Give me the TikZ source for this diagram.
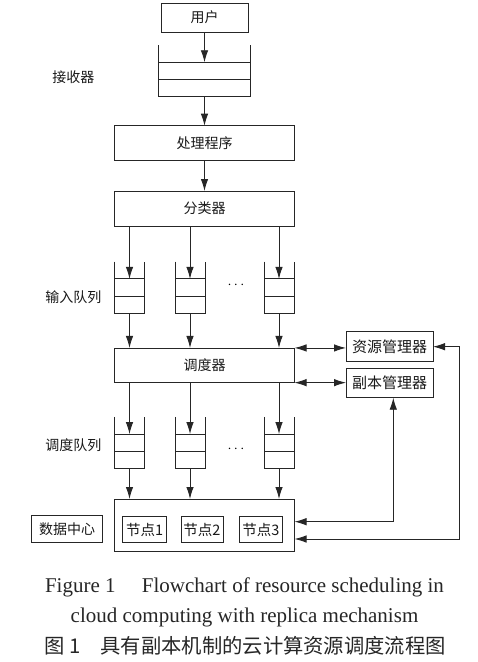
\documentclass[tikz,border=0pt]{standalone}
\usepackage{fontspec}
\setmainfont{Liberation Serif}
\newfontfamily\cjk{Noto Sans CJK SC}
\usetikzlibrary{arrows.meta,calc}
\begin{document}
\begin{tikzpicture}[x=1pt,y=-1pt,
  ln/.style={draw=black!85,line width=0.9pt},
  arr/.style={ln,-{Latex[length=12pt,width=7.5pt]}},
  darr/.style={ln,{Latex[length=12pt,width=7.5pt]}-{Latex[length=12pt,width=7.5pt]}},
  box/.style={ln,rectangle,inner sep=0pt,outer sep=0pt,font=\cjk\fontsize{14}{16}\selectfont,text=black!90},
  qbox/.style={rectangle,inner sep=0pt,outer sep=0pt,minimum height=51.7pt},
  lbl/.style={font=\cjk\fontsize{14}{16}\selectfont,text=black!90,inner sep=0pt},
  dots/.style={inner sep=0pt,font=\fontsize{14}{16}\selectfont,text=black}]
\useasboundingbox (0,0) rectangle (478,662);
\fill[white] (0,0) rectangle (478,662);
\newcommand{\myqueue}[3]{%
  \node[qbox,minimum width=#3] (#1) at (#2) {};
  \draw[ln] (#1.north west) -- (#1.south west) -- (#1.south east) -- (#1.north east);
  \coordinate (#1-a) at ($(#1.north)!1/3!(#1.south)$);
  \draw[ln] ($(#1.north west)!1/3!(#1.south west)$) -- ($(#1.north east)!1/3!(#1.south east)$);
  \draw[ln] ($(#1.north west)!2/3!(#1.south west)$) -- ($(#1.north east)!2/3!(#1.south east)$);
}
% top
\node[box,minimum width=87pt,minimum height=29pt] (user) at (204.5,17.5) {用户};
\myqueue{rq}{204.5,70.9}{91.4pt}
\node[lbl] (lrq) at (73.4,76.7) {接收器};
\node[box,minimum width=180pt,minimum height=35pt] (proc) at (204.5,143.2) {处理程序};
\node[box,minimum width=180pt,minimum height=35pt] (cls) at (204.5,208.5) {分类器};
\draw[arr] (user.south) -- (rq-a);
\draw[arr] (rq.south) -- (proc.north);
\draw[arr] (proc.south) -- (cls.north);
% input queues
\myqueue{iq1}{129.5,287.5}{30pt}
\myqueue{iq2}{190,287.5}{30pt}
\myqueue{iq3}{279,287.5}{30pt}
\node[dots] (idots) at (236,285) {$\cdots$};
\node[lbl] (liq) at (73.4,296.7) {输入队列};
\foreach \q in {iq1,iq2,iq3}{\draw[arr] (cls.south -| \q) -- (\q-a);}
\node[box,minimum width=180pt,minimum height=34.7pt] (sch) at (204.5,365.3) {调度器};
\foreach \q in {iq1,iq2,iq3}{\draw[arr] (\q.south) -- (sch.north -| \q);}
% managers
\node[box,minimum width=87pt,minimum height=30pt,font=\cjk\fontsize{15}{16}\selectfont] (res) at (389.5,346.7) {资源管理器};
\node[box,minimum width=87pt,minimum height=29.4pt,font=\cjk\fontsize{15}{16}\selectfont] (rep) at (389.5,383) {副本管理器};
\draw[darr] (sch.north east) -- (sch.north east -| res.west);
\draw[darr] (sch.south east) -- (sch.south east -| rep.west);
% schedule queues
\myqueue{sq1}{129.5,442.7}{30pt}
\myqueue{sq2}{190,442.7}{30pt}
\myqueue{sq3}{279,442.7}{30pt}
\node[dots] (sdots) at (236,449) {$\cdots$};
\node[lbl] (lsq) at (73.4,445) {调度队列};
\foreach \q in {sq1,sq2,sq3}{\draw[arr] (sch.south -| \q) -- (\q-a);}
% data center
\node[box,minimum width=180pt,minimum height=52pt] (dc) at (204.5,525) {};
\foreach \q in {sq1,sq2,sq3}{\draw[arr] (\q.south) -- (dc.north -| \q);}
\node[box,minimum width=44pt,minimum height=26pt,font=\cjk\fontsize{14.5}{16}\selectfont] (n1) at (144.7,529.7) {节点1};
\node[box,minimum width=42pt,minimum height=26pt,font=\cjk\fontsize{14.5}{16}\selectfont] (n2) at (202,529.7) {节点2};
\node[box,minimum width=43pt,minimum height=26pt,font=\cjk\fontsize{14.5}{16}\selectfont] (n3) at (260.8,529.7) {节点3};
\node[box,minimum width=71pt,minimum height=27pt] (dctr) at (67.2,528.7) {数据中心};
% feedback
\coordinate (c1) at (393.3,521.7);
\coordinate (c2) at (459,539);
\draw[darr] (rep.south -| c1) -- (c1) -- (c1 -| dc.east);
\draw[darr] (res.east) -- (res.east -| c2) -- (c2) -- (c2 -| dc.east);
% caption
\node[inner sep=0pt,font=\fontsize{21}{24}\selectfont,text=black!85] (cap1) at (244.5,587) {Figure 1\quad\ Flowchart of resource scheduling in};
\node[inner sep=0pt,font=\fontsize{21}{24}\selectfont,text=black!85] (cap2) at (244.5,617) {cloud computing with replica mechanism};
\node[inner sep=0pt,font=\cjk\fontsize{20.3}{22}\selectfont,text=black!85] (cap3) at (245,646) {图\ 1\quad 具有副本机制的云计算资源调度流程图};
\end{tikzpicture}
\end{document}
